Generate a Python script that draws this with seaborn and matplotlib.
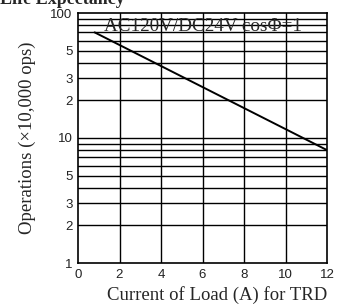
import numpy as np
import matplotlib
matplotlib.use("Agg")
import matplotlib.pyplot as plt
import seaborn as sns
import pandas as pd

# data
current = [0.8, 12]
operations = [70, 8]
y_ticks = [1, 2, 3, 5, 10, 20, 30, 50, 100]
y_labels = ["1", "2", "3", "5", "10", "2", "3", "5", "100"]
x_ticks = [0, 2, 4, 6, 8, 10, 12]

sns.set_style("white")
plt.rcParams['font.family'] = ['Liberation Sans', 'DejaVu Sans']

fig = plt.figure(figsize=(3.47, 3.07), dpi=100)
ax = fig.add_axes([78 / 347, 44 / 307, 249 / 347, 250 / 307])

df = pd.DataFrame({"x": current, "y": operations})
sns.lineplot(data=df, x="x", y="y", ax=ax, color="black", linewidth=1.4)

ax.set_yscale("log")
ax.set_ylim(1, 100)
ax.set_xlim(0, 12)

# grid: every minor decade step horizontally, every 2 A vertically
for dec in [1, 10]:
    for m in range(2, 10):
        ax.axhline(dec * m, color="black", linewidth=1.0, zorder=0)
ax.axhline(10, color="black", linewidth=1.0, zorder=0)
for xv in x_ticks[1:-1]:
    ax.axvline(xv, color="black", linewidth=1.0, zorder=0)

ax.set_yticks(y_ticks)
ax.set_yticklabels(y_labels)
ax.yaxis.set_minor_locator(matplotlib.ticker.NullLocator())
ax.set_xticks(x_ticks)
ax.tick_params(axis="both", length=0, labelsize=9.5, pad=4, colors="#222222")
for s in ax.spines.values():
    s.set_color("black")
    s.set_linewidth(1.2)

ax.set_xlabel("Current of Load (A) for TRD", family="Liberation Serif",
              fontsize=13.5, loc="right", labelpad=4)
ax.set_ylabel("Operations (\u00d710,000 ops)", family="Liberation Serif",
              fontsize=13.5, labelpad=10)

ax.text(6.0, 78, "AC120V/DC24V cos\u03a6=1", family="Liberation Serif",
        fontsize=13.8, ha="center", va="center")

fig.text(0.0, 1.0, "Life Expectancy", family="Liberation Serif",
         fontsize=13, fontweight="bold", ha="left", va="center")

fig.savefig("out.png", dpi=100)
